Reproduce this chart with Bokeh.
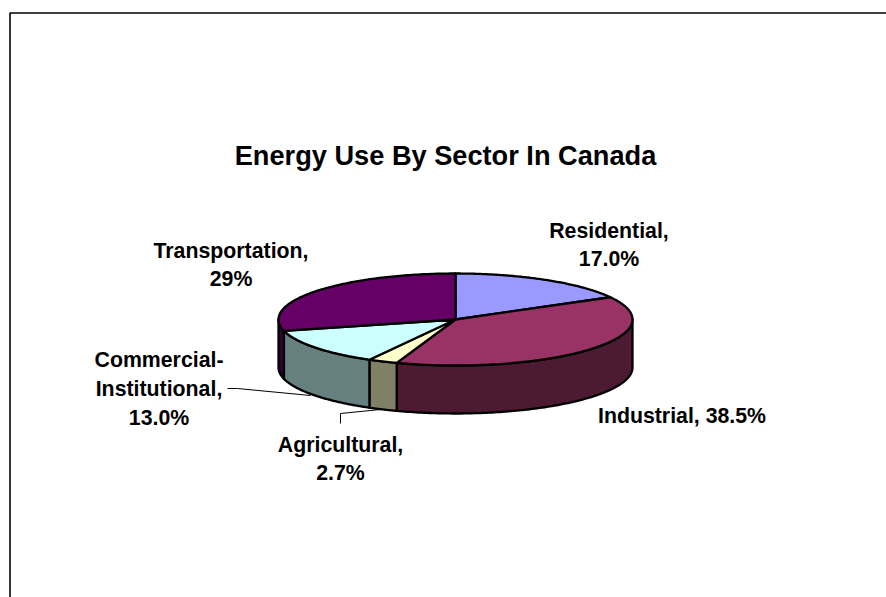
import numpy as np
from bokeh.core.properties import value
from bokeh.embed import file_html
from bokeh.models import ColumnDataSource, Range1d
from bokeh.plotting import figure
from bokeh.resources import INLINE

# Sector shares, in drawing order clockwise from twelve o'clock
sectors = ["Residential", "Industrial", "Agricultural", "Commercial-Institutional", "Transportation"]
shares = [17.0, 38.5, 2.7, 13.0, 29.0]
top_colors = ["#9999FF", "#993366", "#FFFFCC", "#CCFFFF", "#660066"]
side_colors = ["#4D4D80", "#4D1A33", "#808066", "#668080", "#330033"]

# Label text, one row per line
label_lines = ["Residential,", "17.0%", "Industrial, 38.5%", "Agricultural,", "2.7%",
               "Commercial-", "Institutional,", "13.0%", "Transportation,", "29%"]
label_x = [608.5, 608.5, 681.5, 340, 340, 158.5, 158.5, 158.5, 230.5, 230.5]
label_y = [230, 258, 415, 444.5, 472, 359, 388, 417, 250, 278.5]

title = "Energy Use By Sector In Canada"

# Pie geometry in page pixels
CX, CY, RX, RY, DEPTH = 455, 319, 177, 46, 48


def rim(angle_deg):
    a = np.radians(angle_deg)
    return CX + RX * np.sin(a), CY - RY * np.cos(a)


edges = np.concatenate([[0], np.cumsum(shares)]) / sum(shares) * 360

top_x, top_y, wall_x, wall_y, wall_c = [], [], [], [], []
for i in range(len(shares)):
    start, end = edges[i], edges[i + 1]
    ex, ey = rim(np.linspace(start, end, 120))
    top_x.append([CX, *ex])
    top_y.append([CY, *ey])
    # Only the front half of the rim shows its wall
    lo, hi = max(start, 90), min(end, 270)
    if hi > lo:
        wx, wy = rim(np.linspace(lo, hi, 120))
        wall_x.append([*wx, *wx[::-1]])
        wall_y.append([*wy, *(wy[::-1] + DEPTH)])
        wall_c.append(side_colors[i])

p = figure(width=886, height=597, output_backend="svg", toolbar_location=None,
           x_range=Range1d(0, 886), y_range=Range1d(597, 0),
           min_border=0, outline_line_color=None)
p.axis.visible = False
p.grid.visible = False

# Chart frame, open towards the right and bottom of the page
p.line([886, 9.5, 9.5], [12.5, 12.5, 597], line_color="black", line_width=1.6)

# Leader lines
p.line([227, 237, 310], [388, 388, 395], line_color="black", line_width=1)
p.line([340, 340, 380], [423, 413, 409], line_color="black", line_width=1)

p.patches("x", "y", fill_color="c", line_color="black", line_width=2.3, line_join="round",
          source=ColumnDataSource(dict(x=wall_x, y=wall_y, c=wall_c)))
p.patches("x", "y", fill_color="c", line_color="black", line_width=2.3, line_join="round",
          source=ColumnDataSource(dict(x=top_x, y=top_y, c=top_colors)))

p.text(x=[445], y=[154.5], text=[title], text_font=value("Liberation Sans"),
       text_font_style="bold", text_font_size="27.2px", text_align="center",
       text_baseline="middle", text_color="black")
p.text(x=label_x, y=label_y, text=label_lines, text_font=value("Liberation Sans"),
       text_font_style="bold", text_font_size="21.3px", text_align="center",
       text_baseline="middle", text_color="black")

open("out.html", "w").write(file_html(p, INLINE))
